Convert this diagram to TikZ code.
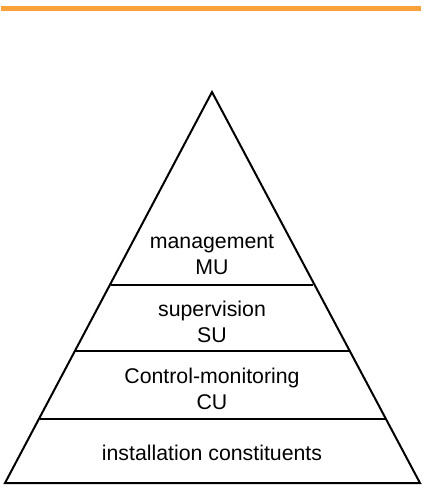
\documentclass[tikz,border=0pt]{standalone}
\usepackage{fontspec}
\setmainfont{Liberation Sans}
\definecolor{barorange}{HTML}{F9A23C}
\begin{document}
\begin{tikzpicture}[x=1pt,y=-1pt,
  layer/.style={line width=2pt,black},
  label/.style={align=center,font=\fontsize{21.3}{26}\selectfont,inner sep=0pt}]
  % Fix the page size
  \useasboundingbox (0,0) rectangle (424,488);

  % Orange bar on top
  \draw[barorange,line width=5pt] (1,8) -- (421,8);

  % Pyramid outline
  \draw[layer,line join=miter] (212,92) -- (420,483) -- (5,483) -- cycle;

  % Layer separators
  \draw[layer] (40,419) -- (385,419);
  \draw[layer] (75,351) -- (349,351);
  \draw[layer] (111,285) -- (313,285);

  % Layer names
  \node[label] (mu) at (212,255) {management\\MU};
  \node[label] (su) at (212,322) {supervision\\SU};
  \node[label] (cu) at (212,389) {Control-monitoring\\CU};
  \node[label] (ic) at (212,453) {installation constituents};

\end{tikzpicture}
\end{document}
